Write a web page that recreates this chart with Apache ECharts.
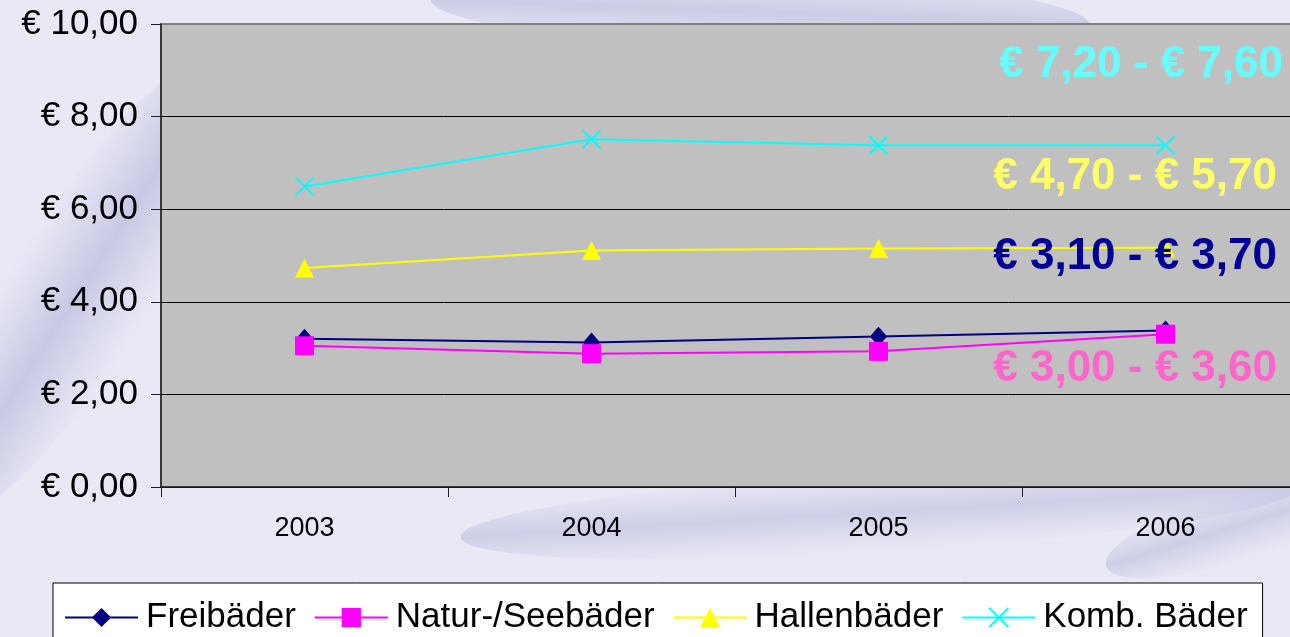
<!DOCTYPE html>
<html>
<head>
<meta charset="utf-8">
<script src="https://cdn.jsdelivr.net/npm/echarts@6/dist/echarts.min.js"></script>
<style>
html,body{margin:0;padding:0;background:#E9E8F5;}
#chart{width:1290px;height:637px;}
</style>
</head>
<body>
<div id="chart"></div>
<script>
const categories = ['2003', '2004', '2005', '2006'];
const freibaeder = [3.20, 3.12, 3.25, 3.38];
const naturSeebaeder = [3.05, 2.88, 2.93, 3.30];
const hallenbaeder = [4.73, 5.11, 5.15, 5.17];
const kombBaeder = [6.49, 7.51, 7.38, 7.38];
const seriesNames = ['Freibäder', 'Natur-/Seebäder', 'Hallenbäder', 'Komb. Bäder'];
const rangeLabels = ['€ 3,10 - € 3,70', '€ 3,00 - € 3,60', '€ 4,70 - € 5,70', '€ 7,20 - € 7,60'];
const yTickLabels = ['€ 0,00', '€ 2,00', '€ 4,00', '€ 6,00', '€ 8,00', '€ 10,00'];

const FONT = '"Liberation Sans", Arial, sans-serif';
const chart = echarts.init(document.getElementById('chart'));

const crossPath = 'path://M0,0L10,10M10,0L0,10';

function swoosh(cx, cy, rx, ry, rot, alpha) {
  return {
    type: 'ellipse', z: -100, silent: true,
    x: cx, y: cy, rotation: rot,
    shape: { cx: 0, cy: 0, rx: rx, ry: ry },
    style: {
      fill: {
        type: 'linear', x: 0, y: 0, x2: 0, y2: 1,
        colorStops: [
          { offset: 0, color: 'rgba(180,182,220,0)' },
          { offset: 0.5, color: 'rgba(165,168,210,' + alpha + ')' },
          { offset: 1, color: 'rgba(180,182,220,0)' }
        ]
      }
    }
  };
}

chart.setOption({
  backgroundColor: '#E9E8F5',
  animation: false,
  textStyle: { fontFamily: FONT },
  grid: {
    left: 161, top: 24, width: 1148, height: 463,
    show: true, backgroundColor: '#C0C0C0', borderColor: '#808080', borderWidth: 2,
    outerBoundsMode: 'none'
  },
  xAxis: {
    type: 'category',
    data: categories,
    boundaryGap: true,
    axisLine: { lineStyle: { color: '#202020', width: 1.5 } },
    axisTick: { show: true, length: 10, lineStyle: { color: '#202020' } },
    axisLabel: { color: '#000', fontSize: 27, fontFamily: FONT, margin: 28 }
  },
  yAxis: {
    type: 'value',
    min: 0, max: 10, interval: 2,
    axisLine: { show: true, lineStyle: { color: '#202020', width: 1.5 } },
    axisTick: { show: true, length: 10, lineStyle: { color: '#202020' } },
    axisLabel: {
      color: '#000', fontSize: 35, fontFamily: FONT, margin: 23,
      formatter: (v) => yTickLabels[Math.round(v / 2)]
    },
    splitLine: { show: true, showMaxLine: false, lineStyle: { color: '#000', width: 1 } }
  },
  legend: {
    data: seriesNames,
    left: 53, top: 583,
    orient: 'horizontal',
    backgroundColor: '#FFFFFF',
    borderColor: '#000',
    borderWidth: 1,
    padding: [17, 15, 14, 11],
    itemWidth: 73, itemHeight: 24, itemGap: 18,
    textStyle: { color: '#000', fontSize: 35, fontFamily: FONT, padding: [0, 0, 0, 3] }
  },
  series: [
    {
      name: seriesNames[0], type: 'line', data: freibaeder,
      symbol: 'diamond', symbolSize: [17, 20],
      lineStyle: { color: '#000080', width: 2 },
      itemStyle: { color: '#000080' }
    },
    {
      name: seriesNames[1], type: 'line', data: naturSeebaeder,
      symbol: 'rect', symbolSize: 19,
      lineStyle: { color: '#FF00FF', width: 2 },
      itemStyle: { color: '#FF00FF' }
    },
    {
      name: seriesNames[2], type: 'line', data: hallenbaeder,
      symbol: 'triangle', symbolSize: [19, 19],
      lineStyle: { color: '#FFFF00', width: 2 },
      itemStyle: { color: '#FFFF00' }
    },
    {
      name: seriesNames[3], type: 'line', data: kombBaeder,
      symbol: crossPath, symbolSize: 18,
      lineStyle: { color: '#00FFFF', width: 2 },
      itemStyle: { color: 'rgba(0,0,0,0)', borderColor: '#00FFFF', borderWidth: 2 }
    }
  ],
  graphic: [
    swoosh(80, 290, 280, 70, 1.0, 0.5),
    swoosh(760, 12, 330, 40, -0.04, 0.45),
    swoosh(880, 512, 420, 40, 0.06, 0.4),
    swoosh(1240, 525, 140, 35, 0.3, 0.4),
    { type: 'text', z: 100, right: 7, top: 43,
      style: { text: rangeLabels[3], fill: '#66FFFF', font: 'bold 44px ' + FONT } },
    { type: 'text', z: 100, right: 13, top: 155,
      style: { text: rangeLabels[2], fill: '#FFFF66', font: 'bold 44px ' + FONT } },
    { type: 'text', z: 100, right: 13, top: 235,
      style: { text: rangeLabels[0], fill: '#000099', font: 'bold 44px ' + FONT } },
    { type: 'text', z: 100, right: 13, top: 347,
      style: { text: rangeLabels[1], fill: '#FF66CC', font: 'bold 44px ' + FONT } }
  ]
});
</script>
</body>
</html>
